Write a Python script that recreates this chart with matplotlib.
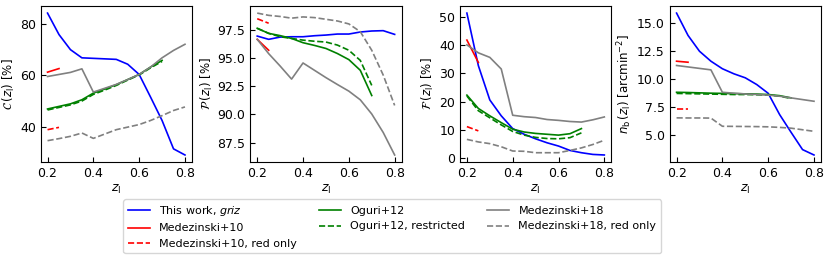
import numpy as np
import matplotlib.pyplot as plt

plt.rcParams['font.size'] = 8

# redshift grids
z_this = [0.2, 0.25, 0.3, 0.35, 0.4, 0.45, 0.5, 0.55, 0.6, 0.65, 0.7, 0.75, 0.8]
z_m10 = [0.2, 0.25]
z_og = [0.2, 0.25, 0.3, 0.35, 0.4, 0.45, 0.5, 0.55, 0.6, 0.65, 0.7]
z_m18 = [0.2, 0.25, 0.3, 0.35, 0.4, 0.45, 0.5, 0.55, 0.6, 0.65, 0.7, 0.75, 0.8]

# completeness C [%]
C_this = [84.4, 76.0, 70.1, 66.9, 66.7, 66.5, 66.3, 64.4, 60.4, 51.5, 42.4, 31.3, 28.9]
C_m10 = [61.3, 62.7]
C_m10_red = [38.8, 39.7]
C_og = [46.9, 47.9, 48.9, 50.5, 53.1, 54.7, 56.4, 58.4, 60.4, 63.3, 65.9]
C_og_res = [46.5, 47.5, 48.5, 50.0, 52.6, 54.3, 56.1, 58.2, 60.2, 63.0, 65.5]
C_m18 = [59.6, 60.4, 61.2, 62.6, 53.5, 55.0, 56.5, 58.4, 60.4, 63.3, 66.9, 69.8, 72.2]
C_m18_red = [34.5, 35.3, 36.2, 37.5, 35.4, 37.1, 38.8, 39.8, 40.8, 42.4, 44.3, 46.3, 47.7]

# purity P [%]
P_this = [96.96, 96.67, 96.87, 96.9, 96.9, 96.99, 97.05, 97.14, 97.14, 97.32, 97.41, 97.44, 97.11]
P_m10 = [96.67, 95.7]
P_m10_red = [98.5, 98.1]
P_og = [97.65, 97.2, 97.0, 96.75, 96.37, 96.13, 95.86, 95.41, 94.87, 93.92, 91.68]
P_og_res = [97.65, 97.2, 96.9, 96.75, 96.6, 96.5, 96.43, 96.16, 95.7, 94.8, 92.58]
P_m18 = [96.67, 95.4, 94.3, 93.14, 94.57, 93.92, 93.27, 92.66, 92.07, 91.3, 90.04, 88.4, 86.4]
P_m18_red = [99.0, 98.8, 98.7, 98.55, 98.66, 98.6, 98.45, 98.3, 98.04, 97.35, 95.7, 93.5, 90.8]

# contamination F [%]
F_this = [51.2, 32.7, 20.6, 15.0, 10.5, 8.5, 6.9, 5.5, 4.35, 2.8, 2.0, 1.4, 1.2]
F_m10 = [41.7, 33.8]
F_m10_red = [11.2, 9.7]
F_og = [22.3, 17.6, 15.0, 12.6, 10.3, 9.3, 8.8, 8.5, 8.2, 8.7, 10.5]
F_og_res = [22.0, 16.8, 14.3, 11.8, 9.5, 8.2, 7.4, 7.0, 6.9, 7.3, 9.0]
F_m18 = [40.0, 37.2, 35.6, 31.5, 15.2, 14.7, 14.4, 13.7, 13.4, 13.0, 12.8, 13.6, 14.6]
F_m18_red = [6.7, 5.8, 5.2, 4.1, 2.6, 2.5, 2.0, 2.0, 2.0, 2.8, 3.7, 4.9, 6.4]

# background density n_b [arcmin^-2]
n_this = [15.86, 13.87, 12.46, 11.57, 10.9, 10.45, 10.09, 9.49, 8.71, 6.81, 5.23, 3.69, 3.21]
n_m10 = [11.57, 11.48]
n_m10_red = [7.29, 7.29]
n_og = [8.8, 8.78, 8.75, 8.72, 8.7, 8.68, 8.66, 8.64, 8.6, 8.5, 8.3]
n_og_res = [8.7, 8.68, 8.66, 8.64, 8.62, 8.6, 8.6, 8.58, 8.55, 8.45, 8.25]
n_m18 = [11.19, 11.06, 10.93, 10.8, 8.8, 8.72, 8.65, 8.6, 8.55, 8.45, 8.3, 8.15, 8.0]
n_m18_red = [6.52, 6.51, 6.51, 6.5, 5.77, 5.76, 5.75, 5.74, 5.72, 5.67, 5.6, 5.46, 5.32]

panels = [
    (C_this, C_m10, C_m10_red, C_og, C_og_res, C_m18, C_m18_red, r'$\mathcal{C}\,(z_\mathrm{l})$ [%]'),
    (P_this, P_m10, P_m10_red, P_og, P_og_res, P_m18, P_m18_red, r'$\mathcal{P}\,(z_\mathrm{l})$ [%]'),
    (F_this, F_m10, F_m10_red, F_og, F_og_res, F_m18, F_m18_red, r'$\mathcal{F}\,(z_\mathrm{l})$ [%]'),
    (n_this, n_m10, n_m10_red, n_og, n_og_res, n_m18, n_m18_red, r'$n_\mathrm{b}\,(z_\mathrm{l})$ [arcmin$^{-2}$]'),
]

fig, axes = plt.subplots(1, 4, figsize=(8.3, 2.61), dpi=100)
fig.subplots_adjust(left=0.049, right=0.989, top=0.977, bottom=0.379, wspace=0.387)

for ax, (th, m10, m10r, og, ogr, m18, m18r, lab) in zip(axes, panels):
    ax.plot(z_this, th, color='blue', lw=1.2, label=r'This work, $griz$')
    ax.plot(z_m10, m10, color='red', lw=1.2, label='Medezinski+10')
    ax.plot(z_m10, m10r, color='red', lw=1.2, ls='--', label='Medezinski+10, red only')
    ax.plot(z_og, og, color='green', lw=1.2, label='Oguri+12')
    ax.plot(z_og, ogr, color='green', lw=1.2, ls='--', label='Oguri+12, restricted')
    ax.plot(z_m18, m18, color='gray', lw=1.2, label='Medezinski+18')
    ax.plot(z_m18, m18r, color='gray', lw=1.2, ls='--', label='Medezinski+18, red only')
    ax.set_ylabel(lab, fontsize=8.5, labelpad=2)
    ax.set_xlabel(r'$z_\mathrm{l}$', fontsize=9, labelpad=2)
    ax.set_xticks([0.2, 0.4, 0.6, 0.8])
    ax.tick_params(direction='in', labelsize=9)

handles, labels = axes[0].get_legend_handles_labels()
fig.legend(handles, labels, ncol=3, loc='upper left',
           bbox_to_anchor=(0.142, 0.257), fontsize=8)

plt.savefig('out.png')
